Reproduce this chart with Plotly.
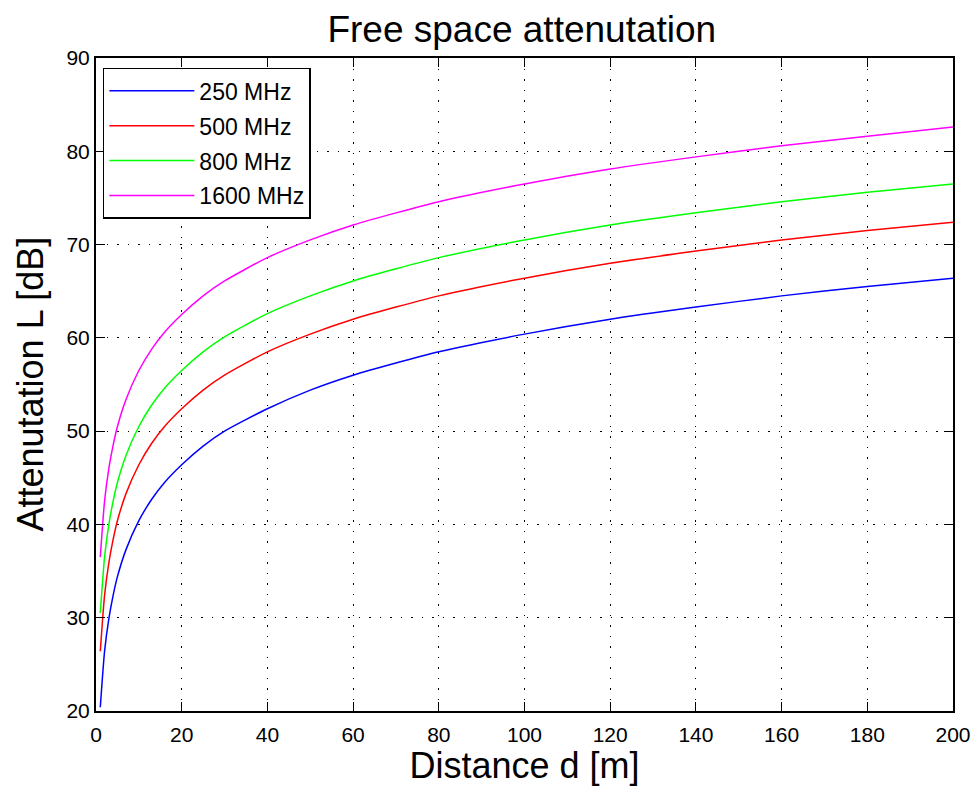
import plotly.graph_objects as go

distance_m = [1, 2, 3, 4, 5, 7, 10, 13, 16, 20, 25, 30, 40, 50, 60, 70, 80, 100, 120, 140, 160, 180, 200]

loss_250 = [20.4, 26.4, 29.9, 32.4, 34.4, 37.3, 40.4, 42.7, 44.5, 46.4, 48.4, 50.0, 52.4, 54.4, 56.0, 57.3, 58.5, 60.4, 62.0, 63.3, 64.5, 65.5, 66.4]
loss_500 = [26.4, 32.4, 35.9, 38.4, 40.4, 43.3, 46.4, 48.7, 50.5, 52.4, 54.4, 56.0, 58.5, 60.4, 62.0, 63.3, 64.5, 66.4, 68.0, 69.3, 70.5, 71.5, 72.4]
loss_800 = [30.5, 36.5, 40.0, 42.5, 44.5, 47.4, 50.5, 52.8, 54.6, 56.5, 58.5, 60.1, 62.6, 64.5, 66.1, 67.4, 68.6, 70.5, 72.1, 73.4, 74.6, 75.6, 76.5]
loss_1600 = [36.5, 42.5, 46.0, 48.5, 50.5, 53.4, 56.5, 58.8, 60.6, 62.5, 64.5, 66.1, 68.6, 70.5, 72.1, 73.4, 74.6, 76.5, 78.1, 79.4, 80.6, 81.6, 82.6]

series = [
    ("250 MHz", loss_250, "#0000ff"),
    ("500 MHz", loss_500, "#ff0000"),
    ("800 MHz", loss_800, "#00ff00"),
    ("1600 MHz", loss_1600, "#ff00ff"),
]

x_ticks = [0, 20, 40, 60, 80, 100, 120, 140, 160, 180, 200]
y_ticks = [20, 30, 40, 50, 60, 70, 80, 90]

FONT = "Liberation Sans, Arial"

fig = go.Figure()
for name, vals, col in series:
    fig.add_trace(go.Scatter(x=distance_m, y=vals, mode="lines", name=name, legendgroup=name,
                             line=dict(color=col, width=1.5, shape="spline", smoothing=0.6)))

axis_common = dict(
    showline=True, linecolor="black", linewidth=2, mirror="ticks",
    ticks="inside", ticklen=9, tickwidth=1, tickcolor="black",
    showgrid=True, gridcolor="black", griddash="1.5px,9px", gridwidth=1,
    zeroline=False, automargin=False,
    tickfont=dict(family=FONT, size=21, color="black"),
)

fig.update_layout(
    width=979, height=786,
    margin=dict(l=96, r=26, t=58, b=75),
    paper_bgcolor="white", plot_bgcolor="white",
    title=dict(text="Free space attenutation", x=0.533, xanchor="center", y=0.963, yanchor="middle",
               font=dict(family=FONT, size=37, color="black")),
    xaxis=dict(range=[0, 200], tickvals=x_ticks, ticklabelstandoff=4,
               title=dict(text="Distance d [m]", font=dict(family=FONT, size=36, color="black"), standoff=0),
               **axis_common),
    yaxis=dict(range=[20, 90], tickvals=y_ticks, **axis_common),
    legend=dict(x=0.008, y=0.985, xanchor="left", yanchor="top",
                bgcolor="white", bordercolor="black", borderwidth=1.5,
                font=dict(family=FONT, size=23, color="black"),
                itemwidth=85, tracegroupgap=2),
    showlegend=True,
    annotations=[dict(text="Attenutation L [dB]", textangle=-90, xref="paper", yref="paper",
                      x=(30 - 96) / 857, y=0.5, xanchor="center", yanchor="middle", showarrow=False,
                      font=dict(family=FONT, size=36, color="black"))],
)

fig.write_html("out.html")
